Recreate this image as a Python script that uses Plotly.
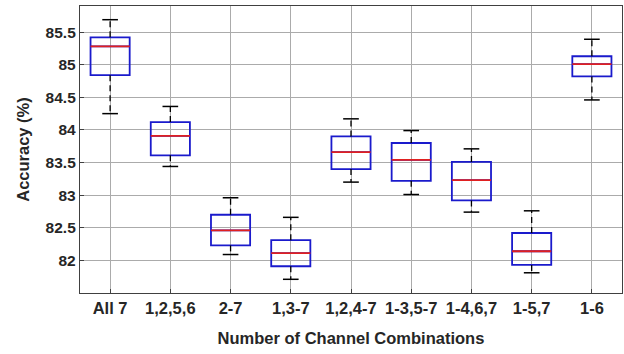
import plotly.graph_objects as go

categories = ["All 7", "1,2,5,6", "2-7", "1,3-7", "1,2,4-7", "1-3,5-7", "1-4,6,7", "1-5,7", "1-6"]
upper_whisker = [85.69, 84.36, 82.96, 82.66, 84.17, 83.99, 83.71, 82.76, 85.39]
q3 = [85.42, 84.12, 82.70, 82.31, 83.90, 83.80, 83.51, 82.42, 85.13]
median = [85.28, 83.91, 82.46, 82.11, 83.66, 83.54, 83.23, 82.14, 85.01]
q1 = [84.84, 83.61, 82.23, 81.91, 83.40, 83.22, 82.92, 81.93, 84.82]
lower_whisker = [84.25, 83.44, 82.09, 81.71, 83.20, 83.01, 82.74, 81.81, 84.46]
y_ticks = [82, 82.5, 83, 83.5, 84, 84.5, 85, 85.5]
y_tick_labels = ["82", "82.5", "83", "83.5", "84", "84.5", "85", "85.5"]

pos = list(range(1, len(categories) + 1))
box_w = 0.65
cap_w = 0.13
med_w = box_w / 2

fig = go.Figure()

# dashed whiskers
wx, wy = [], []
for p, a, b, c, d in zip(pos, q3, upper_whisker, q1, lower_whisker):
    wx += [p, p, None, p, p, None]
    wy += [a, b, None, c, d, None]
fig.add_trace(go.Scatter(x=wx, y=wy, mode="lines",
                         line=dict(color="black", width=1.3, dash="6px,4px"),
                         hoverinfo="skip", showlegend=False))
# caps
cx, cy = [], []
for p, b, d in zip(pos, upper_whisker, lower_whisker):
    cx += [p - cap_w, p + cap_w, None, p - cap_w, p + cap_w, None]
    cy += [b, b, None, d, d, None]
fig.add_trace(go.Scatter(x=cx, y=cy, mode="lines",
                         line=dict(color="black", width=1.5),
                         hoverinfo="skip", showlegend=False))
# boxes
fig.add_trace(go.Box(x=pos, q1=q1, median=median, q3=q3,
                     lowerfence=q1, upperfence=q3, width=box_w,
                     line=dict(color="#1a1acc", width=1.8),
                     fillcolor="rgba(255,255,255,0)",
                     whiskerwidth=0, boxpoints=False,
                     hoverinfo="skip", showlegend=False))
# medians
mx, my = [], []
for p, m in zip(pos, median):
    mx += [p - med_w, p + med_w, None]
    my += [m, m, None]
fig.add_trace(go.Scatter(x=mx, y=my, mode="lines",
                         line=dict(color="#e02020", width=1.8),
                         hoverinfo="skip", showlegend=False))

font_family = "Liberation Sans, Arial, sans-serif"
fig.update_layout(
    width=624, height=354,
    margin=dict(l=80, r=2, t=6, b=61),
    paper_bgcolor="white", plot_bgcolor="white",
    font=dict(family=font_family, color="#262626"),
    showlegend=False,
)
fig.update_xaxes(
    range=[0.5, len(categories) + 0.5],
    tickmode="array", tickvals=pos, ticktext=categories,
    tickfont=dict(size=16.5, weight="bold", color="#262626"),
    title=dict(text="Number of Channel Combinations",
               font=dict(size=16.5, weight="bold", color="#262626"), standoff=16),
    automargin=False,
    showgrid=True, gridcolor="#ababab", gridwidth=1,
    showline=True, linecolor="#404040", linewidth=1.3, mirror=True,
    ticks="inside", ticklen=4, tickcolor="#404040",
    zeroline=False,
)
fig.update_yaxes(
    range=[81.5, 85.9],
    tickmode="array", tickvals=y_ticks, ticktext=y_tick_labels,
    tickfont=dict(size=15.5, weight="bold", color="#262626"),
    title=dict(text="Accuracy (%)",
               font=dict(size=16.5, weight="bold", color="#262626"), standoff=11),
    automargin=False,
    showgrid=True, gridcolor="#ababab", gridwidth=1,
    showline=True, linecolor="#404040", linewidth=1.3, mirror=True,
    ticks="inside", ticklen=4, tickcolor="#404040",
    zeroline=False,
)

fig.write_html("out.html", config={"displayModeBar": False},
               post_script="document.body.style.margin='0';document.body.style.overflow='hidden';")
